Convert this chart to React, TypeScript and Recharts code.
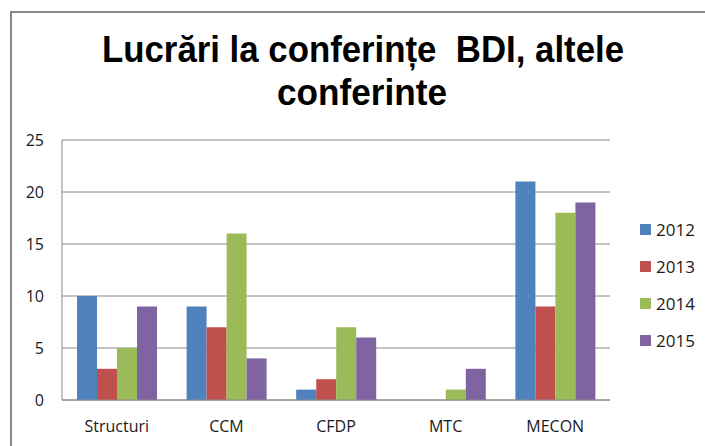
import React from "react";
import { BarChart, Bar, XAxis, YAxis, CartesianGrid } from "recharts";

const categories = ["Structuri", "CCM", "CFDP", "MTC", "MECON"];
const s2012 = [10, 9, 1, 0, 21];
const s2013 = [3, 7, 2, 0, 9];
const s2014 = [5, 16, 7, 1, 18];
const s2015 = [9, 4, 6, 3, 19];
const seriesNames = ["2012", "2013", "2014", "2015"];
const seriesColors = ["#4F81BD", "#C0504D", "#9BBB59", "#8064A2"];
const yTicks = [0, 5, 10, 15, 20, 25];
const titleLine1 = "Lucrări la conferințe  BDI, altele";
const titleLine2 = "conferinte";

const seriesValues = [s2012, s2013, s2014, s2015];
const data = categories.map((c, i) => {
  const row: Record<string, string | number> = { name: c };
  seriesNames.forEach((s, k) => {
    row[s] = seriesValues[k][i];
  });
  return row;
});

const FONT = "'Open Sans', 'Noto Sans', sans-serif";

export default function App() {
  return (
    <div
      style={{
        position: "absolute",
        left: 0,
        top: 0,
        width: 705,
        height: 446,
        overflow: "hidden",
        background: "#fff",
      }}
    >
      <div
        style={{
          position: "absolute",
          left: 10,
          top: 11,
          width: 800,
          height: 600,
          border: "2px solid #888888",
        }}
      />
      <svg
        width={705}
        height={120}
        style={{ position: "absolute", left: 0, top: 0 }}
      >
        <text
          x={102}
          y={62}
          fontFamily="'Liberation Sans', Arial, sans-serif"
          fontWeight="bold"
          fontSize={37}
          textLength={522}
          lengthAdjust="spacingAndGlyphs"
          fill="#000"
          style={{ whiteSpace: "pre" }}
        >
          {titleLine1}
        </text>
        <text
          x={277}
          y={105}
          fontFamily="'Liberation Sans', Arial, sans-serif"
          fontWeight="bold"
          fontSize={37}
          textLength={170}
          lengthAdjust="spacingAndGlyphs"
          fill="#000"
        >
          {titleLine2}
        </text>
      </svg>
      <div style={{ position: "absolute", left: 0, top: 0 }}>
        <BarChart
          width={705}
          height={446}
          data={data}
          margin={{ top: 140, right: 95, bottom: 0, left: 0 }}
          barCategoryGap={15}
          barGap={0}
        >
          <CartesianGrid
            vertical={false}
            stroke="#888888"
            strokeWidth={1}
          />
          <XAxis
            dataKey="name"
            height={46}
            tickSize={0}
            tickMargin={21}
            tickLine={false}
            axisLine={{ stroke: "#888888" }}
            tick={{ fill: "#1a1a1a", fontSize: 16, fontFamily: FONT }}
          />
          <YAxis
            width={62}
            domain={[0, 25]}
            ticks={yTicks}
            tickSize={0}
            tickMargin={18}
            tickLine={false}
            axisLine={{ stroke: "#888888" }}
            tick={{ fill: "#1a1a1a", fontSize: 16, fontFamily: FONT }}
          />
          {seriesNames.map((s, k) => (
            <Bar
              key={s}
              dataKey={s}
              fill={seriesColors[k]}
              isAnimationActive={false}
            />
          ))}
        </BarChart>
      </div>
      <div style={{ position: "absolute", left: 640, top: 211 }}>
        {seriesNames.map((s, k) => (
          <div
            key={s}
            style={{
              display: "flex",
              alignItems: "center",
              height: 37,
            }}
          >
            <div
              style={{
                width: 11,
                height: 11,
                background: seriesColors[k],
                marginRight: 5,
              }}
            />
            <span
              style={{
                fontFamily: FONT,
                fontSize: 17,
                color: "#1a1a1a",
                lineHeight: "20px",
              }}
            >
              {s}
            </span>
          </div>
        ))}
      </div>
    </div>
  );
}
